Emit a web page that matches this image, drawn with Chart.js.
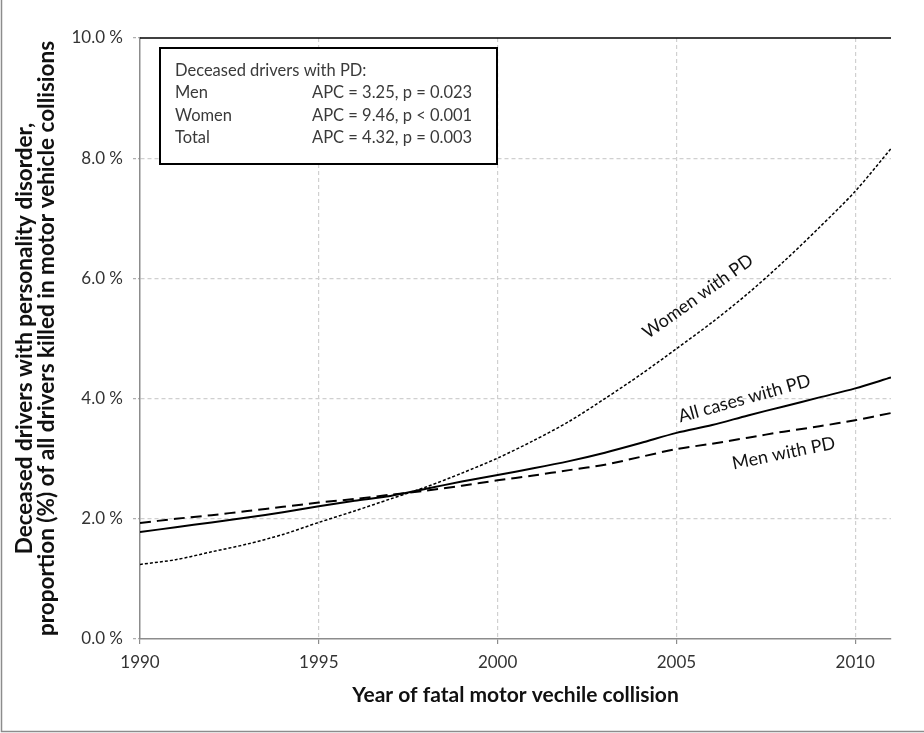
<!DOCTYPE html>
<html>
<head>
<meta charset="utf-8">
<script src="https://cdn.jsdelivr.net/npm/chart.js@4"></script>
<style>
  html, body { margin: 0; padding: 0; background: #fff; }
  #wrap { width: 924px; height: 733px; position: relative; }
</style>
</head>
<body>
<div id="wrap"><canvas id="chart" width="924" height="733"></canvas></div>
<script>
// years 1990..2011, values (% of drivers killed)
const years = [1990,1991,1992,1993,1994,1995,1996,1997,1998,1999,2000,2001,2002,2003,2004,2005,2006,2007,2008,2009,2010,2011];
const womenVals = [1.24,1.32,1.45,1.58,1.74,1.94,2.13,2.33,2.53,2.76,3.01,3.30,3.62,4.00,4.40,4.83,5.27,5.75,6.28,6.85,7.45,8.16];
const totalVals = [1.78,1.86,1.94,2.02,2.11,2.21,2.30,2.38,2.50,2.62,2.73,2.84,2.96,3.10,3.26,3.43,3.56,3.72,3.87,4.02,4.17,4.35];
const menVals   = [1.93,2.00,2.06,2.13,2.20,2.27,2.33,2.40,2.47,2.55,2.64,2.72,2.81,2.90,3.03,3.16,3.25,3.35,3.45,3.54,3.64,3.76];

// text of the stats box
const boxTitle = "Deceased drivers with PD:";
const boxGroups = ["Men", "Women", "Total"];
const boxStats = ["APC = 3.25, p = 0.023", "APC = 9.46, p < 0.001", "APC = 4.32, p = 0.003"];

// curve labels (name, year, value, angle in degrees)
const curveNames = ["Women with PD", "All cases with PD", "Men with PD"];
const curveLabelX = [2005.6, 2006.9, 2008.0];
const curveLabelY = [5.70, 4.0, 3.09];
const curveLabelAngle = [-35.5, -15.5, -11.5];

const FONT = "Lato, 'Open Sans', sans-serif";

function toPoints(vals) {
  return vals.map((v, i) => ({x: years[i], y: v}));
}

//draws frame, top border, stats box and the labels sitting on the curves
const extrasPlugin = {
  id: 'extras',
  afterDraw(chart) {
    const ctx = chart.ctx;
    const ca = chart.chartArea;
    const xs = chart.scales.x, ys = chart.scales.y;
    ctx.save();

    // outer frame (left and bottom only are visible)
    ctx.strokeStyle = '#8c8c8c';
    ctx.lineWidth = 1.5;
    ctx.beginPath();
    ctx.moveTo(1.5, 0);
    ctx.lineTo(1.5, 731.5);
    ctx.lineTo(924, 731.5);
    ctx.stroke();

    // black line across the top of the plot
    ctx.strokeStyle = '#000';
    ctx.lineWidth = 1.5;
    ctx.beginPath();
    ctx.moveTo(ca.left, ca.top);
    ctx.lineTo(ca.right, ca.top);
    ctx.stroke();

    // stats box
    const bx = ca.left + 20, by = ca.top + 10, bw = 337, bh = 116;
    ctx.fillStyle = '#fff';
    ctx.fillRect(bx, by, bw, bh);
    ctx.lineWidth = 2;
    ctx.strokeStyle = '#000';
    ctx.strokeRect(bx, by, bw, bh);
    ctx.fillStyle = '#3a3a3a';
    ctx.font = '16.5px ' + FONT;
    ctx.textBaseline = 'middle';
    ctx.textAlign = 'left';
    ctx.fillText(boxTitle, bx + 15, by + 23);
    for (let i = 0; i < boxGroups.length; i++) {
      let yy = by + 45 + i * 22.5;
      ctx.fillText(boxGroups[i], bx + 15, yy);
      ctx.fillText(boxStats[i], bx + 152, yy);
    }

    // labels on the curves
    ctx.fillStyle = '#111';
    ctx.font = '18px ' + FONT;
    ctx.textAlign = 'center';
    for (let i = 0; i < curveNames.length; i++) {
      ctx.save();
      ctx.translate(xs.getPixelForValue(curveLabelX[i]), ys.getPixelForValue(curveLabelY[i]));
      ctx.rotate(curveLabelAngle[i] * Math.PI / 180);
      ctx.fillText(curveNames[i], 0, 0);
      ctx.restore();
    }
    ctx.restore();
  }
};

new Chart(document.getElementById('chart'), {
  type: 'line',
  data: {
    datasets: [
      { label: 'Women with PD', data: toPoints(womenVals), borderColor: '#000', borderWidth: 1.5, borderDash: [3, 2], pointRadius: 0, tension: 0.3 },
      { label: 'All cases with PD', data: toPoints(totalVals), borderColor: '#000', borderWidth: 2, pointRadius: 0, tension: 0.3 },
      { label: 'Men with PD', data: toPoints(menVals), borderColor: '#000', borderWidth: 2, borderDash: [11, 6], pointRadius: 0, tension: 0.3 }
    ]
  },
  options: {
    responsive: false,
    animation: false,
    layout: { padding: { left: 0, top: 38, right: 33, bottom: 0 } },
    plugins: { legend: { display: false }, tooltip: { enabled: false } },
    scales: {
      x: {
        type: 'linear',
        min: 1990, max: 2011,
        afterBuildTicks: s => { s.ticks = s.ticks.filter(t => Math.abs(t.value / 5 - Math.round(t.value / 5)) < 1e-6); },
        afterFit: s => { s.height = 94; },
        ticks: { stepSize: 5, includeBounds: false, autoSkip: false, color: '#333', font: { family: FONT, size: 17 }, padding: 8, maxRotation: 0,
                 callback: v => String(Math.round(v)) },
        grid: { color: ctx => ctx.tick && Math.round(ctx.tick.value) === 1990 ? 'rgba(0,0,0,0)' : '#d0d0d0',
                tickColor: '#8c8c8c', tickLength: 5, lineWidth: 1.2 },
        border: { color: '#8c8c8c', width: 1.5, dash: [4, 3] },
        title: { display: true, text: 'Year of fatal motor vechile collision', color: '#111',
                 font: { family: FONT, size: 21, weight: 'bold', lineHeight: 1.25 }, padding: { top: 0, bottom: 25 } }
      },
      y: {
        min: 0, max: 10,
        afterFit: s => { s.width = 140; },
        ticks: { stepSize: 2, color: '#333', font: { family: FONT, size: 17 }, padding: 10,
                 callback: v => v.toFixed(1) + ' %' },
        grid: { color: ctx => ctx.tick && (ctx.tick.value === 0 || ctx.tick.value === 10) ? 'rgba(0,0,0,0)' : '#d0d0d0',
                tickColor: '#b0b0b0', tickLength: 7, lineWidth: 1.2, tickBorderDash: [3, 2] },
        border: { color: '#8c8c8c', width: 1.5, dash: [4, 3] },
        title: { display: true,
                 text: ['Deceased drivers with personality disorder,', 'proportion (%) of all drivers killed in motor vehicle collisions'],
                 color: '#111', font: { family: FONT, size: 22.5, weight: 'bold', lineHeight: 1.0 }, padding: { top: 13, bottom: 0 } }
      }
    }
  },
  plugins: [extrasPlugin]
});
</script>
</body>
</html>
